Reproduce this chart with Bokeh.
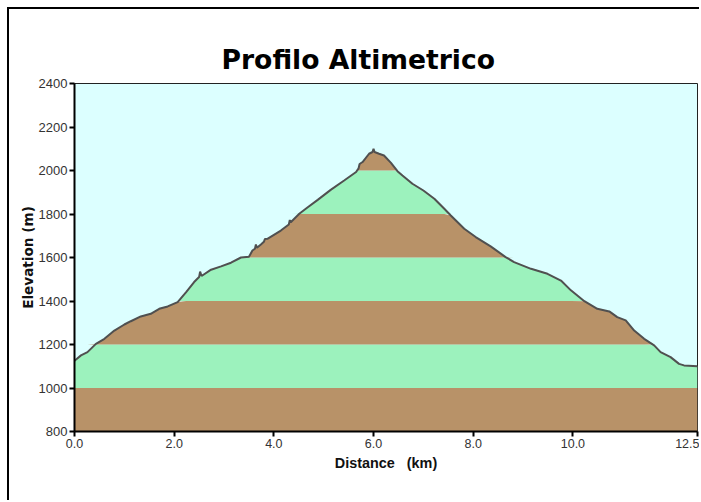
from bokeh.plotting import figure
from bokeh.models import Range1d, FixedTicker, NumeralTickFormatter
from bokeh.embed import file_html
from bokeh.resources import INLINE
import numpy as np

# Profile data (distance km, elevation m)
distance = [0.00, 0.13, 0.26, 0.43, 0.60, 0.80, 1.00, 1.13, 1.33, 1.53, 1.70, 1.87,
            2.07, 2.24, 2.40, 2.50, 2.52, 2.55, 2.74, 2.94, 3.14, 3.34, 3.50, 3.57,
            3.62, 3.64, 3.66, 3.74, 3.80, 3.82, 3.87, 4.14, 4.30, 4.32, 4.34, 4.51,
            4.68, 4.88, 5.14, 5.41, 5.65, 5.70, 5.72, 5.78, 5.91, 5.98, 6.00, 6.02,
            6.11, 6.21, 6.35, 6.48, 6.58, 6.78, 7.00, 7.22, 7.42, 7.55, 7.82, 8.05,
            8.35, 8.65, 8.82, 9.16, 9.49, 9.76, 9.96, 10.23, 10.49, 10.73, 10.89,
            11.06, 11.23, 11.43, 11.63, 11.76, 11.96, 12.13, 12.23, 12.50]
elevation = [1125, 1150, 1165, 1203, 1226, 1264, 1292, 1307, 1329, 1341, 1364, 1375,
             1395, 1441, 1487, 1510, 1535, 1515, 1544, 1559, 1576, 1600, 1603, 1632,
             1640, 1660, 1645, 1660, 1672, 1685, 1686, 1724, 1752, 1772, 1762, 1801,
             1831, 1865, 1911, 1954, 1993, 2010, 2030, 2039, 2077, 2085, 2100, 2085,
             2077, 2069, 2035, 1997, 1977, 1939, 1908, 1870, 1824, 1793, 1732, 1694,
             1651, 1602, 1579, 1548, 1525, 1494, 1449, 1399, 1364, 1352, 1326,
             1311, 1264, 1226, 1196, 1165, 1142, 1111, 1104, 1100]

band_edges = [800, 1000, 1200, 1400, 1600, 1800, 2000, 2200]
band_colors = ["#b89268", "#9cf2bd"]
x_ticks = [0, 2, 4, 6, 8, 10, 12.5]
y_ticks = [800, 1000, 1200, 1400, 1600, 1800, 2000, 2200, 2400]

p = figure(width=692, height=493, output_backend="svg", toolbar_location=None,
           x_range=Range1d(0, 12.5), y_range=Range1d(800, 2400),
           min_border_left=65, min_border_right=4, min_border_top=74, min_border_bottom=71,
           tools="")
p.styles = {"margin-top": "7px", "margin-left": "7px",
            "border-top": "2px solid black", "border-left": "2px solid black"}
p.background_fill_color = "#dcffff"
p.border_fill_color = "white"
p.outline_line_color = "#222222"
p.outline_line_width = 1
p.grid.visible = False

el = np.array(elevation, dtype=float)
for i in range(len(band_edges) - 1):
    lo, hi = band_edges[i], band_edges[i + 1]
    top = np.clip(el, lo, hi)
    p.varea(x=distance, y1=[lo] * len(distance), y2=top,
            fill_color=band_colors[i % 2], fill_alpha=1.0)

p.line(distance, elevation, line_color="#505050", line_width=2)

p.title.text = "Profilo Altimetrico"
p.title.text_font = "DejaVu Sans"
p.title.text_font_style = "bold"
p.title.text_font_size = "26.6px"
p.title.align = "left"
p.title.offset = 147
p.title.standoff = 17
p.title.text_color = "black"

p.xaxis.axis_label = "Distance\u00a0\u00a0\u00a0(km)"
p.yaxis.axis_label = "Elevation (m)"
for ax in (p.xaxis, p.yaxis):
    ax.axis_label_text_font_style = "bold"
    ax.axis_label_text_color = "#111111"
    ax.major_label_text_font = "Liberation Sans"
    ax.major_label_text_color = "#333333"
    ax.axis_line_color = "black"
    ax.axis_line_width = 2
    ax.major_tick_line_color = "black"
    ax.major_tick_line_width = 2
    ax.major_tick_out = 5
    ax.major_tick_in = 0
    ax.minor_tick_line_color = None
    ax.major_label_standoff = 2
p.xaxis.axis_label_text_font = "Liberation Sans"
p.xaxis.axis_label_text_font_size = "14.4px"
p.yaxis.axis_label_text_font = "DejaVu Sans"
p.yaxis.axis_label_text_font_size = "13.6px"
p.xaxis.major_label_text_font_size = "12.5px"
p.yaxis.major_label_text_font_size = "13px"
p.xaxis.ticker = FixedTicker(ticks=x_ticks)
p.yaxis.ticker = FixedTicker(ticks=y_ticks)
p.xaxis.formatter = NumeralTickFormatter(format="0.0")
p.xaxis.axis_label_standoff = 4
p.yaxis.axis_label_standoff = 0

open("out.html", "w").write(file_html(p, INLINE))
